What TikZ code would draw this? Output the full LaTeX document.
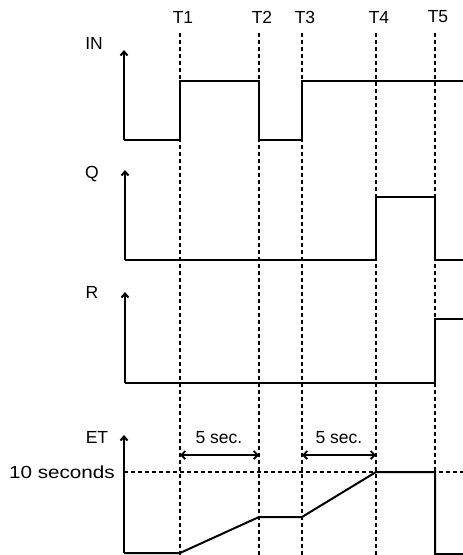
\documentclass[tikz,border=0pt]{standalone}
\usepackage{fontspec}
\setmainfont{Liberation Sans}
\usetikzlibrary{arrows.meta}

\begin{document}
\begin{tikzpicture}[
    x=1pt, y=-1pt,
    signal/.style={line width=2pt, line join=miter},
    axis/.style={line width=2pt, -{Straight Barb[length=4pt, width=7pt]}},
    timeline/.style={line width=1.8pt, dash pattern=on 4pt off 3pt},
    limit/.style={line width=1.3pt, dash pattern=on 4pt off 3pt},
    span/.style={line width=1.8pt, {Straight Barb[length=4pt, width=8pt]}-{Straight Barb[length=4pt, width=8pt]}},
    lbl/.style={font=\fontsize{17.5}{20}\selectfont, inner sep=0pt}
]

\useasboundingbox (0,0) rectangle (463,555);

% time marks
\foreach \name/\x/\w in {T1/180/1.8, T2/259/1.8, T3/302/1.2, T4/376/1.8, T5/435/1.8} {
    \node[lbl] (\name) at (\x+3,17) {\name};
    \coordinate (\name top) at (\x,33);
    \coordinate (\name bot) at (\x,555);
    \draw[timeline, line width=\w pt] (\name top) -- (\name bot);
}

% IN
\node[lbl] (in) at (94,43) {IN};
\draw[axis] (124,140) -- (124,50);
\draw[signal] (124,140) -- (180,140) -- (180,81) -- (259,81) -- (259,140)
    -- (302,140) -- (302,81) -- (463,81);

% Q
\node[lbl] (q) at (92,174) {Q};
\draw[axis] (125,260) -- (125,170);
\draw[signal] (125,260) -- (376,260) -- (376,197) -- (435,197) -- (435,260) -- (463,260);

% R
\node[lbl] (r) at (92,292) {R};
\draw[axis] (125,383) -- (125,292);
\draw[signal] (125,383) -- (435,383) -- (435,319) -- (463,319);

% ET
\node[lbl] (et) at (97,437) {ET};
\node[lbl, anchor=east] (ten) at (115,472) {\scalebox{1.18}[1]{10 seconds}};
\coordinate (limit end) at (463,472);
\draw[limit] (124,472) -- (limit end);
\draw[axis] (124,553) -- (124,435);
\draw[signal] (124,553) -- (180,553) -- (259,517) -- (302,517) -- (376,472)
    -- (435,472) -- (435,554) -- (463,554);

% delays
\coordinate (d1a) at (180,455);
\coordinate (d1b) at (259,455);
\coordinate (d2a) at (302,455);
\coordinate (d2b) at (376,455);
\draw[span] (d1a) -- (d1b);
\draw[span] (d2a) -- (d2b);
\node[lbl] (sec1) at (219,438) {5 sec.};
\node[lbl] (sec2) at (339,438) {5 sec.};

\end{tikzpicture}
\end{document}
